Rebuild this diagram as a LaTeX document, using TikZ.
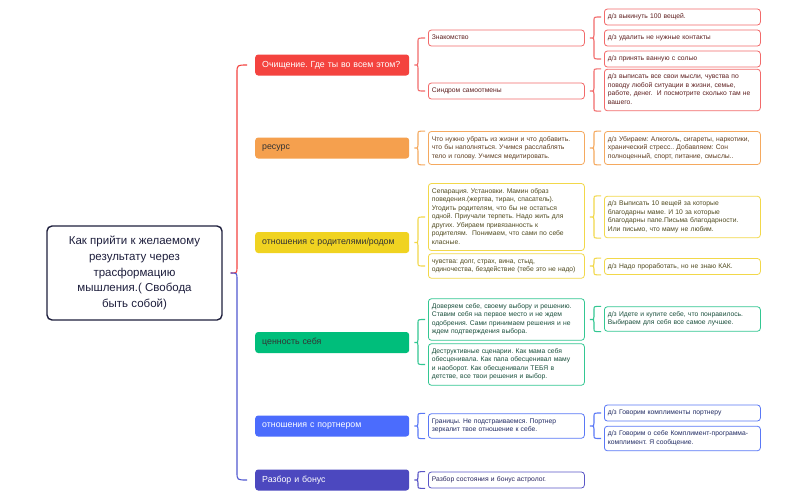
\documentclass[tikz,border=0pt]{standalone}
\usepackage{fontspec}
\setmainfont{Liberation Sans}
\usepackage{xcolor}
\usetikzlibrary{calc}
\frenchspacing

\definecolor{cNavy}{HTML}{1E1F3D}
\definecolor{cRed}{HTML}{F4433F}
\definecolor{cRedL}{HTML}{F26A6A}
\definecolor{cRedT}{HTML}{5E1F1F}
\definecolor{cOrange}{HTML}{F5A04E}
\definecolor{cOrangeL}{HTML}{F5A95F}
\definecolor{cOrangeT}{HTML}{5E3D20}
\definecolor{cYellow}{HTML}{F0D321}
\definecolor{cYellowL}{HTML}{F2D84A}
\definecolor{cYellowT}{HTML}{504A1F}
\definecolor{cGreen}{HTML}{00BE7B}
\definecolor{cGreenL}{HTML}{33C792}
\definecolor{cGreenT}{HTML}{1B503D}
\definecolor{cBlue}{HTML}{4B6CFD}
\definecolor{cBlueL}{HTML}{5A78F6}
\definecolor{cBlueT}{HTML}{212B63}
\definecolor{cIndigo}{HTML}{4C48BF}
\definecolor{cIndigoL}{HTML}{5A56C7}
\definecolor{cIndigoT}{HTML}{27245E}
\definecolor{cLow}{HTML}{5058D0}

% brace from a parent to the span of its children
\newcommand{\mmbrace}[4]{% colour, parent, top end, bottom end
  \draw[#1, brc] let \p1=(#2.east), \p2=(#3), \p3=(#4) in
    (\x2-3pt,\y2) .. controls (\x2-10pt,\y2) .. (\x2-10pt,\y2-3pt)
    -- (\x2-10pt,\y1+3pt) .. controls (\x2-10pt,\y1) .. (\x1+5pt,\y1)
    .. controls (\x2-10pt,\y1) .. (\x2-10pt,\y1-3pt)
    -- (\x2-10pt,\y3+3pt) .. controls (\x2-10pt,\y3) .. (\x2-3pt,\y3);
}

\begin{document}
\begin{tikzpicture}[
  x=1pt, y=-1pt,
  root/.style={draw=cNavy, line width=1.4pt, rounded corners=5pt, fill=white, text=cNavy,
    minimum width=175pt, minimum height=94pt, align=center, font=\fontsize{11.5}{15.8}\selectfont},
  topic/.style={rounded corners=3pt, anchor=west, text width=140pt, inner xsep=7pt,
    minimum height=21pt, align=left, font=\fontsize{8.8}{11}\selectfont},
  sub/.style={draw, rounded corners=3pt, fill=white, line width=0.8pt, anchor=west,
    text width=149pt, inner xsep=3.5pt, inner ysep=3.75pt, align=left,
    font=\fontsize{6.75}{8.5}\selectfont,
    execute at begin node=\strut, execute at end node=\strut},
  sRed/.style={sub, draw=cRedL, text=cRedT},
  sOrange/.style={sub, draw=cOrangeL, text=cOrangeT},
  sYellow/.style={sub, draw=cYellowL, text=cYellowT},
  sGreen/.style={sub, draw=cGreenL, text=cGreenT},
  sBlue/.style={sub, draw=cBlueL, text=cBlueT},
  sIndigo/.style={sub, draw=cIndigoL, text=cIndigoT},
  brc/.style={line width=1.1pt}
]
\fill[white] (0,0) rectangle (806,499);
\useasboundingbox (0,0) rectangle (806,499);

% --- root ---
\node[root] (root) at (134.5,273) {Как прийти к желаемому\\результату через\\трасформацию\\мышления.( Свобода\\быть собой)};

% --- main topics ---
\node[topic, fill=cRed, text=white] (b1) at (255,65) {Очищение. Где ты во всем этом?};
\node[topic, fill=cOrange, text=black!80] (b2) at (255,148) {ресурс};
\node[topic, fill=cYellow, text=black!80] (b3) at (255,242.5) {отношения с родителями/родом};
\node[topic, fill=cGreen, text=black!80] (b4) at (255,342.5) {ценность себя};
\node[topic, fill=cBlue, text=white] (b5) at (255,426) {отношения с портнером};
\node[topic, fill=cIndigo, text=white] (b6) at (255,480) {Разбор и бонус};

% root brace, red half and blue half
\draw[cRed, brc] let \p1=(root.east), \p2=(b1.west) in
  (\x1+8pt,\y1) .. controls (\x2-18pt,\y1) .. (\x2-18pt,\y1+6pt)
  -- (\x2-18pt,\y2-8pt) .. controls (\x2-18pt,\y2) .. (\x2-8pt,\y2);
\draw[cLow, brc] let \p1=(root.east), \p2=(b6.west) in
  (\x1+8pt,\y1) .. controls (\x2-18pt,\y1) .. (\x2-18pt,\y1-6pt)
  -- (\x2-18pt,\y2+8pt) .. controls (\x2-18pt,\y2) .. (\x2-8pt,\y2);

% --- Очищение ---
\node[sRed] (r1) at (428,38) {Знакомство};
\node[sRed] (r2) at (428,91) {Синдром самоотмены};
\node[sRed] (r11) at (604,17) {д/з выкинуть 100 вещей.};
\node[sRed] (r12) at (604,38) {д/з удалить не нужные контакты};
\node[sRed] (r13) at (604,59) {д/з принять ванную с солью};
\node[sRed] (r21) at (604,90) {д/з выписать все свои мысли, чувства по\\поводу любой ситуации в жизни, семье,\\работе, денег.~ И посмотрите сколько там не\\вашего.};
\mmbrace{cRedL}{b1}{r1.west}{r2.west}
\mmbrace{cRedL}{r1}{r11.west}{r13.west}
\mmbrace{cRedL}{r2}{r21.north west}{r21.south west}

% --- ресурс ---
\node[sOrange] (o1) at (428,148) {Что нужно убрать из жизни и что добавить.\\что бы наполняться. Учимся расслаблять\\тело и голову. Учимся медитировать.};
\node[sOrange] (o11) at (604,148) {д/з Убираем: Алкоголь, сигареты, наркотики,\\хранический стресс.. Добавляем: Сон\\полноценный, спорт, питание, смыслы..};
\mmbrace{cOrangeL}{b2}{o1.north west}{o1.south west}
\mmbrace{cOrangeL}{o1}{o11.north west}{o11.south west}

% --- родители ---
\node[sYellow] (y1) at (428,217) {Сепарация. Установки. Мамин образ\\поведения.(жертва, тиран, спасатель).\\Угодить родителям, что бы не остаться\\одной. Приучали терпеть. Надо жить для\\других. Убираем привязанность к\\родителям.~ Понимаем, что сами по себе\\класные.};
\node[sYellow] (y2) at (428,266) {чувства: долг, страх, вина, стыд,\\одиночества, бездействие (тебе это не надо)};
\node[sYellow] (y11) at (604,217) {д/з Выписать 10 вещей за которые\\благодарны маме. И 10 за которые\\благодарны папе.Письма благодарности.\\Или письмо, что маму не любим.};
\node[sYellow] (y21) at (604,266.5) {д/з Надо проработать, но не знаю КАК.};
\mmbrace{cYellowL}{b3}{y1.west}{y2.west}
\mmbrace{cYellowL}{y1}{y11.north west}{y11.south west}
\mmbrace{cYellowL}{y2}{y21.north west}{y21.south west}

% --- ценность ---
\node[sGreen] (g1) at (428,319.5) {Доверяем себе, своему выбору и решению.\\Ставим себя на первое место и не ждем\\одобрения. Сами принимаем решения и не\\ждем подтверждения выбора.};
\node[sGreen] (g2) at (428,364.5) {Деструктивные сценарии. Как мама себя\\обесценивала. Как папа обесценивал маму\\и наоборот. Как обесценивали ТЕБЯ в\\детстве, все твои решения и выбор.};
\node[sGreen] (g11) at (604,319) {д/з Идете и купите себе, что понравилось.\\Выбираем для себя все самое лучшее.};
\mmbrace{cGreenL}{b4}{g1.west}{g2.west}
\mmbrace{cGreenL}{g1}{g11.north west}{g11.south west}

% --- партнер ---
\node[sBlue] (u1) at (428,426) {Границы. Не подстраиваемся. Портнер\\зеркалит твое отношение к себе.};
\node[sBlue] (u11) at (604,413) {д/з Говорим комплименты портнеру};
\node[sBlue] (u12) at (604,438.5) {д/з Говорим о себе Комплимент-программа-\\комплимент. Я сообщение.};
\mmbrace{cBlueL}{b5}{u1.north west}{u1.south west}
\mmbrace{cBlueL}{u1}{u11.west}{u12.west}

% --- бонус ---
\node[sIndigo] (v1) at (428,480) {Разбор состояния и бонус астролог.};
\mmbrace{cIndigoL}{b6}{v1.north west}{v1.south west}
\end{tikzpicture}
\end{document}
